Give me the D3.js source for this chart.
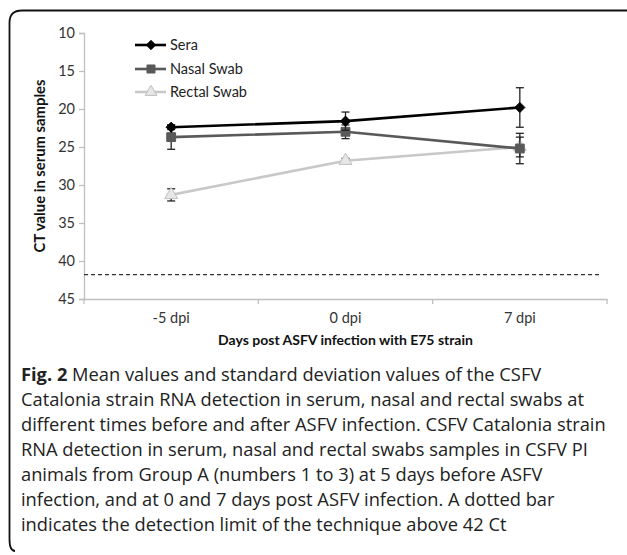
<!DOCTYPE html>
<html><head><meta charset="utf-8">
<script src="https://cdn.jsdelivr.net/npm/d3@7"></script>
<style>body{margin:0;background:#fff}svg{display:block}</style>
</head><body>
<svg id="c" width="627" height="555"></svg>
<script>
const categories = ["-5 dpi", "0 dpi", "7 dpi"];
const seriesNames = ["Sera", "Nasal Swab", "Rectal Swab"];
const seraMean = [22.4, 21.6, 19.8];
const seraSD = [0.3, 1.2, 2.6];
const nasalMean = [23.7, 23.0, 25.2];
const nasalSD = [1.6, 0.9, 2.0];
const rectalMean = [31.3, 26.8, 25.0];
const rectalSD = [0.8, 0.3, 1.3];
const yTicks = [10, 15, 20, 25, 30, 35, 40, 45];
const detectionLimit = 41.8;
const xTitle = "Days post ASFV infection with E75 strain";
const yTitle = "CT value in serum samples";
const captionBold = "Fig. 2";
const captionLines = [
  " Mean values and standard deviation values of the CSFV",
  "Catalonia strain RNA detection in serum, nasal and rectal swabs at",
  "different times before and after ASFV infection. CSFV Catalonia strain",
  "RNA detection in serum, nasal and rectal swabs samples in CSFV PI",
  "animals from Group A (numbers 1 to 3) at 5 days before ASFV",
  "infection, and at 0 and 7 days post ASFV infection. A dotted bar",
  "indicates the detection limit of the technique above 42 Ct"
];

const series = [
  {name: seriesNames[0], mean: seraMean, sd: seraSD, color: "#000000", marker: "diamond", mfill: "#000", mstroke: "#000"},
  {name: seriesNames[1], mean: nasalMean, sd: nasalSD, color: "#595959", marker: "square", mfill: "#595959", mstroke: "#595959"},
  {name: seriesNames[2], mean: rectalMean, sd: rectalSD, color: "#c8c8c8", marker: "triangle", mfill: "#e6e6e6", mstroke: "#c0c0c0"}
];

const svg = d3.select("#c");
const chartFont = "Lato, 'Open Sans', sans-serif";
const capFont = "'Open Sans', 'Noto Sans', sans-serif";

// Frame
svg.append("path")
  .attr("d", "M627,10.5 L22,10.5 Q9.5,10.5 9.5,23 L9.5,539 Q9.5,551 15,551")
  .attr("fill", "none").attr("stroke", "#111").attr("stroke-width", 1.8);

const pL = 84, pR = 607, pT = 33, pB = 299;
const x = d3.scaleBand().domain(categories).range([pL, pR]);
const y = d3.scaleLinear().domain([10, 45]).range([pT, pB]);
const cx = c => x(c) + x.bandwidth() / 2;

// Y axis
const yAxis = svg.append("g").attr("transform", `translate(${pL},0)`)
  .call(d3.axisLeft(y).tickValues(yTicks).tickSize(5).tickPadding(4));
yAxis.select(".domain").attr("stroke", "#bfbfbf").attr("stroke-width", 1.3);
yAxis.selectAll(".tick line").attr("stroke", "#bfbfbf").attr("stroke-width", 1.3);
yAxis.selectAll(".tick text").attr("font-family", chartFont).attr("font-size", 14.5).attr("fill", "#333");

// X axis
const xAxis = svg.append("g").attr("transform", `translate(0,${pB})`)
  .call(d3.axisBottom(x).tickSize(0).tickPadding(14));
xAxis.select(".domain").attr("stroke", "#bfbfbf").attr("stroke-width", 1.3);
xAxis.selectAll(".tick text").attr("font-family", chartFont).attr("font-size", 14.5).attr("fill", "#333");
const bounds = categories.map(c => x(c) + x.bandwidth()).concat([x(categories[0])]);
svg.append("g").selectAll("line").data(bounds).join("line")
  .attr("x1", d => d).attr("x2", d => d).attr("y1", pB).attr("y2", pB + 5)
  .attr("stroke", "#bfbfbf").attr("stroke-width", 1.3);

// Detection limit
svg.append("line").attr("x1", pL).attr("x2", pR - 6)
  .attr("y1", y(detectionLimit)).attr("y2", y(detectionLimit))
  .attr("stroke", "#333").attr("stroke-width", 1.3).attr("stroke-dasharray", "4,3");

// Axis titles
svg.append("text").attr("x", cx(categories[1])).attr("y", 345)
  .attr("text-anchor", "middle").attr("font-family", chartFont).attr("font-weight", "bold")
  .attr("font-size", 14).attr("fill", "#111").text(xTitle);
svg.append("text").attr("transform", "translate(45,166) rotate(-90)")
  .attr("text-anchor", "middle").attr("font-family", chartFont).attr("font-weight", "bold")
  .attr("font-size", 14.8).attr("fill", "#111").text(yTitle);

function drawMarker(g, type, fill, stroke, size) {
  let t = type === "diamond" ? d3.symbolDiamond2 : type === "square" ? d3.symbolSquare : d3.symbolTriangle;
  let k = type === "diamond" ? 1.1 : type === "square" ? 1.3 : 1.2;
  g.append("path").attr("d", d3.symbol().type(t).size(size * k)()).attr("fill", fill).attr("stroke", stroke);
}

const line = d3.line().x(d => cx(d.c)).y(d => y(d.v));
[...series].reverse().forEach(s => {
  const pts = categories.map((c, i) => ({c, v: s.mean[i], sd: s.sd[i]}));
  const g = svg.append("g");
  pts.forEach(p => {
    const xx = cx(p.c);
    g.append("line").attr("x1", xx).attr("x2", xx).attr("y1", y(p.v - p.sd)).attr("y2", y(p.v + p.sd))
      .attr("stroke", "#222").attr("stroke-width", 1.3);
    [p.v - p.sd, p.v + p.sd].forEach(v => {
      g.append("line").attr("x1", xx - 4).attr("x2", xx + 4).attr("y1", y(v)).attr("y2", y(v))
        .attr("stroke", "#222").attr("stroke-width", 1.3);
    });
  });
  g.append("path").datum(pts).attr("d", line).attr("fill", "none")
    .attr("stroke", s.color).attr("stroke-width", 2.6);
  pts.forEach(p => {
    const mg = g.append("g").attr("transform", `translate(${cx(p.c)},${y(p.v)})`);
    drawMarker(mg, s.marker, s.mfill, s.mstroke, 60);
  });
});

// Legend
const legY = [45, 69, 92];
series.forEach((s, i) => {
  const g = svg.append("g").attr("transform", `translate(135,${legY[i]})`);
  g.append("line").attr("x1", 0).attr("x2", 31).attr("stroke", s.color).attr("stroke-width", 2.6);
  const mg = g.append("g").attr("transform", "translate(16,0)");
  drawMarker(mg, s.marker, s.mfill, s.mstroke, 50);
  g.append("text").attr("x", 35).attr("y", 0).attr("dy", "0.35em")
    .attr("font-family", chartFont).attr("font-size", 14.5).attr("fill", "#222").text(s.name);
});

// Caption
const capTop = 375, capStep = 24.9;
const cap = svg.append("g").attr("font-family", capFont).attr("font-size", 18.3).attr("fill", "#222");
captionLines.forEach((t, i) => {
  const tx = cap.append("text").attr("x", 21).attr("y", capTop + i * capStep).attr("dy", "0.35em");
  if (i === 0) tx.append("tspan").attr("font-weight", "bold").text(captionBold);
  tx.append("tspan").text(t);
});
</script>
</body></html>
